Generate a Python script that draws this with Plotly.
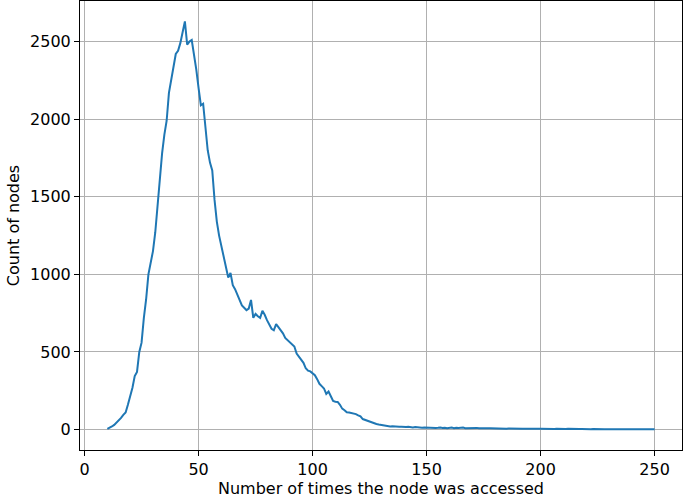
import plotly.graph_objects as go

# access counts (x) and number of nodes with that count (y)
ACCESS_COUNTS = list(range(10, 251))

NODE_COUNTS = [
    # 10-19
    5, 10, 20, 30, 45, 58, 75, 95, 110, 160,
    # 20-29
    215, 270, 345, 372, 500, 560, 720, 840, 1000, 1075,
    # 30-39
    1150, 1270, 1440, 1620, 1780, 1900, 1990, 2170, 2250, 2340,
    # 40-49
    2420, 2440, 2490, 2560, 2630, 2480, 2500, 2510, 2420, 2320,
    # 50-59
    2200, 2090, 2100, 1930, 1800, 1720, 1670, 1480, 1340, 1250,
    # 60-69
    1180, 1110, 1030, 980, 1010, 930, 905, 870, 840, 800,
    # 70-79
    785, 770, 780, 835, 720, 745, 730, 720, 765, 740,
    # 80-89
    705, 680, 650, 640, 680, 660, 640, 620, 590, 575,
    # 90-99
    560, 550, 535, 490, 470, 455, 430, 395, 380, 375,
    # 100-109
    365, 350, 325, 295, 280, 265, 230, 245, 215, 185,
    # 110-119
    180, 178, 160, 135, 125, 112, 110, 108, 106, 100,
    # 120-129
    92, 85, 68, 62, 58, 52, 45, 40, 36, 33,
    # 130-139
    30, 27, 24, 22, 20, 21, 19, 20, 18, 19,
    # 140-149
    17, 16, 18, 15, 14, 16, 13, 14, 12, 13,
    # 150-159
    12, 11, 12, 10, 11, 12, 14, 10, 12, 9,
    # 160-169
    11, 13, 9, 12, 10, 11, 13, 9, 10, 12,
    # 170-179
    9, 10, 11, 8, 9, 8, 9, 8, 8, 7,
    # 180-189
    8, 7, 8, 7, 7, 6, 7, 6, 7, 6,
    # 190-199
    6, 6, 5, 6, 5, 6, 5, 5, 6, 5,
    # 200-209
    6, 5, 5, 4, 5, 5, 4, 5, 4, 4,
    # 210-219
    4, 4, 5, 4, 4, 4, 3, 4, 4, 3,
    # 220-229
    4, 3, 3, 4, 3, 3, 3, 3, 3, 3,
    # 230-239
    3, 3, 3, 2, 3, 3, 2, 3, 2, 3,
    # 240-250
    2, 2, 3, 2, 2, 2, 2, 2, 2, 2, 2,
]

X_TICKS = [0, 50, 100, 150, 200, 250]
Y_TICKS = [0, 500, 1000, 1500, 2000, 2500]

FONT = dict(family="DejaVu Sans", size=16, color="black")

fig = go.Figure()
fig.add_trace(
    go.Scatter(
        x=ACCESS_COUNTS, y=NODE_COUNTS, mode="lines",
        line=dict(color="#1f77b4", width=2),
        showlegend=False,
    )
)

axis_style = dict(
    showline=True, mirror=True, linecolor="black", linewidth=1,
    ticks="outside", ticklen=5, tickcolor="black", tickwidth=1,
    showgrid=True, gridcolor="#b0b0b0", gridwidth=1,
    zeroline=False, automargin=False,
    tickfont=FONT,
)

fig.update_xaxes(
    range=[-2, 262], tickmode="array", tickvals=X_TICKS,
    title=dict(text="Number of times the node was accessed", font=FONT, standoff=4),
    **axis_style,
)
fig.update_yaxes(
    range=[-131.5, 2761.5], tickmode="array", tickvals=Y_TICKS,
    title=dict(text="Count of nodes", font=FONT, standoff=6),
    **axis_style,
)

fig.update_layout(
    width=685, height=498,
    margin=dict(l=80, r=3, t=1, b=48),
    paper_bgcolor="white",
    plot_bgcolor="white",
)

# page body has a default 8px margin; drop it so the figure sits at the corner
fig.write_html(
    "out.html",
    config={"displayModeBar": False},
    post_script="document.body.style.margin='0';",
)
